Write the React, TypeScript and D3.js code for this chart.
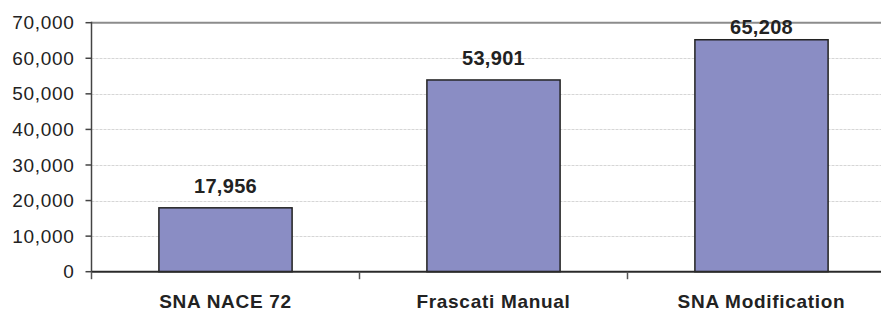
import React, { useRef, useEffect } from 'react';
import * as d3 from 'd3';

const categories = ['SNA NACE 72', 'Frascati Manual', 'SNA Modification'];
const values = [17956, 53901, 65208];
const yTicks = [0, 10000, 20000, 30000, 40000, 50000, 60000, 70000];

const App: React.FC = () => {
  const svgRef = useRef<SVGSVGElement>(null);
  const width = 881;
  const height = 312;

  useEffect(() => {
    if (!svgRef.current) return;
    const svg = d3.select(svgRef.current);
    svg.selectAll('*').remove();

    const left = 91.5;
    const top = 22.7;
    const bottom = 271.7;

    const x = d3.scaleBand<string>()
      .domain(categories)
      .range([left, left + 268 * 3])
      .padding(0);

    const y = d3.scaleLinear()
      .domain([0, 70000])
      .range([bottom, top]);

    const fmt = d3.format(',');
    const font = 'Liberation Sans, Arial, sans-serif';

    // grid lines
    svg.append('g')
      .selectAll('line')
      .data(yTicks.filter(t => t > 0 && t < 70000))
      .enter().append('line')
      .attr('x1', left)
      .attr('x2', width)
      .attr('y1', d => Math.round(y(d)) + 0.5)
      .attr('y2', d => Math.round(y(d)) + 0.5)
      .attr('stroke', '#d6d6d6')
      .attr('stroke-width', 1)
      .attr('stroke-dasharray', '3,1');

    // top border of plot area
    svg.append('line')
      .attr('x1', left)
      .attr('x2', width)
      .attr('y1', y(70000))
      .attr('y2', y(70000))
      .attr('stroke', '#8c8c8c')
      .attr('stroke-width', 2);

    // bars
    const barW = x.bandwidth() * 0.497;
    svg.append('g')
      .selectAll('rect')
      .data(values)
      .enter().append('rect')
      .attr('x', (d, i) => (x(categories[i]) as number) + (x.bandwidth() - barW) / 2)
      .attr('y', d => y(d))
      .attr('width', barW)
      .attr('height', d => y(0) - y(d))
      .attr('fill', '#8a8dc4')
      .attr('stroke', '#222')
      .attr('stroke-width', 1.5);

    // value labels (kept inside the plot top like the original)
    svg.append('g')
      .selectAll('text')
      .data(values)
      .enter().append('text')
      .attr('x', (d, i) => (x(categories[i]) as number) + x.bandwidth() / 2)
      .attr('y', d => Math.max(y(d) - 15, top + 11.5))
      .attr('text-anchor', 'middle')
      .style('font-family', font)
      .style('font-size', '20px')
      .style('font-weight', 'bold')
      .style('letter-spacing', '0.3px')
      .attr('fill', '#222')
      .text(d => fmt(d));

    // y axis
    svg.append('line')
      .attr('x1', left)
      .attr('x2', left)
      .attr('y1', top - 1)
      .attr('y2', bottom)
      .attr('stroke', '#444')
      .attr('stroke-width', 1.5);

    const yAxis = svg.append('g');
    yAxis.selectAll('line')
      .data(yTicks)
      .enter().append('line')
      .attr('x1', left - 6)
      .attr('x2', left)
      .attr('y1', d => y(d))
      .attr('y2', d => y(d))
      .attr('stroke', '#444')
      .attr('stroke-width', 1.5);
    yAxis.selectAll('text')
      .data(yTicks)
      .enter().append('text')
      .attr('x', 74.5)
      .attr('y', d => y(d))
      .attr('dy', '0.35em')
      .attr('text-anchor', 'end')
      .style('font-family', font)
      .style('font-size', '19px')
      .style('letter-spacing', '0.7px')
      .attr('fill', '#222')
      .text(d => fmt(d));

    // x axis
    svg.append('line')
      .attr('x1', left)
      .attr('x2', width)
      .attr('y1', y(0))
      .attr('y2', y(0))
      .attr('stroke', '#2a2a2a')
      .attr('stroke-width', 2);

    const bounds = categories.map(c => x(c) as number);
    svg.append('g')
      .selectAll('line')
      .data(bounds)
      .enter().append('line')
      .attr('x1', d => d)
      .attr('x2', d => d)
      .attr('y1', y(0))
      .attr('y2', y(0) + 7.5)
      .attr('stroke', '#555')
      .attr('stroke-width', 1.5);

    svg.append('g')
      .selectAll('text')
      .data(categories)
      .enter().append('text')
      .attr('x', d => (x(d) as number) + x.bandwidth() / 2)
      .attr('y', 307.5)
      .attr('text-anchor', 'middle')
      .style('font-family', font)
      .style('font-size', '19px')
      .style('font-weight', 'bold')
      .style('letter-spacing', '0.7px')
      .attr('fill', '#222')
      .text(d => d);
  }, []);

  return (
    <div style={{ position: 'absolute', left: 0, top: 0, width, height, background: '#fff' }}>
      <svg ref={svgRef} width={width} height={height} style={{ display: 'block' }}></svg>
    </div>
  );
};

export default App;
